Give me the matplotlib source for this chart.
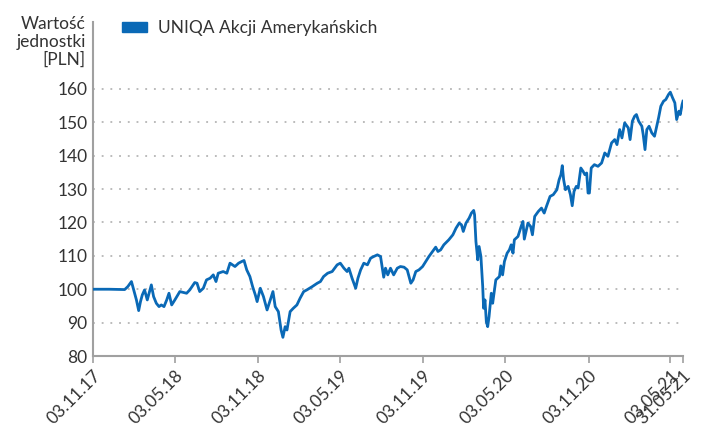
import matplotlib
matplotlib.use("Agg")
import matplotlib.pyplot as plt
import pandas as pd

dates = [
    "2017-11-03", "2017-12-09", "2018-01-12", "2018-01-19", "2018-01-27", "2018-01-30",
    "2018-02-07", "2018-02-12", "2018-02-16", "2018-02-20", "2018-02-25", "2018-03-03",
    "2018-03-07", "2018-03-12", "2018-03-17", "2018-03-23", "2018-03-29", "2018-04-03",
    "2018-04-09", "2018-04-15", "2018-04-20", "2018-04-26", "2018-05-03", "2018-05-14",
    "2018-05-29", "2018-06-05", "2018-06-16", "2018-06-21", "2018-06-27", "2018-07-05",
    "2018-07-12", "2018-07-20", "2018-07-27", "2018-08-02", "2018-08-07", "2018-08-18",
    "2018-08-26", "2018-09-02", "2018-09-13", "2018-09-21", "2018-09-28", "2018-10-03",
    "2018-10-09", "2018-10-16", "2018-10-22", "2018-10-28", "2018-11-01", "2018-11-08",
    "2018-11-15", "2018-11-23", "2018-11-30", "2018-12-06", "2018-12-11", "2018-12-18",
    "2018-12-24", "2018-12-28", "2019-01-02", "2019-01-06", "2019-01-13", "2019-01-20",
    "2019-01-28", "2019-02-04", "2019-02-12", "2019-02-19", "2019-03-03", "2019-03-14",
    "2019-03-21", "2019-03-28", "2019-04-06", "2019-04-16", "2019-04-27", "2019-05-04",
    "2019-05-12", "2019-05-19", "2019-05-23", "2019-05-30", "2019-06-07", "2019-06-12",
    "2019-06-18", "2019-06-25", "2019-07-03", "2019-07-10", "2019-07-17", "2019-07-25",
    "2019-08-01", "2019-08-05", "2019-08-08", "2019-08-12", "2019-08-17", "2019-08-23",
    "2019-08-30", "2019-09-07", "2019-09-14", "2019-09-22", "2019-09-29", "2019-10-07",
    "2019-10-12", "2019-10-18", "2019-10-25", "2019-11-02", "2019-11-09", "2019-11-16",
    "2019-11-24", "2019-12-01", "2019-12-06", "2019-12-12", "2019-12-19", "2019-12-30",
    "2020-01-08", "2020-01-15", "2020-01-22", "2020-01-27", "2020-01-31", "2020-02-06",
    "2020-02-13", "2020-02-18", "2020-02-23", "2020-02-25", "2020-02-28", "2020-03-03",
    "2020-03-06", "2020-03-10", "2020-03-14", "2020-03-16", "2020-03-19", "2020-03-22",
    "2020-03-25", "2020-03-28", "2020-04-02", "2020-04-05", "2020-04-09", "2020-04-12",
    "2020-04-20", "2020-04-23", "2020-04-27", "2020-05-01", "2020-05-07", "2020-05-12",
    "2020-05-16", "2020-05-20", "2020-05-23", "2020-05-31", "2020-06-07", "2020-06-11",
    "2020-06-14", "2020-06-22", "2020-06-28", "2020-07-02", "2020-07-07", "2020-07-15",
    "2020-07-22", "2020-07-28", "2020-08-02", "2020-08-10", "2020-08-17", "2020-08-25",
    "2020-08-30", "2020-09-03", "2020-09-06", "2020-09-09", "2020-09-13", "2020-09-19",
    "2020-09-24", "2020-09-28", "2020-10-02", "2020-10-07", "2020-10-11", "2020-10-17",
    "2020-10-22", "2020-10-26", "2020-10-30", "2020-11-02", "2020-11-05", "2020-11-09",
    "2020-11-16", "2020-11-24", "2020-12-02", "2020-12-09", "2020-12-16", "2020-12-24",
    "2020-12-31", "2021-01-05", "2021-01-11", "2021-01-16", "2021-01-22", "2021-01-30",
    "2021-02-03", "2021-02-08", "2021-02-13", "2021-02-17", "2021-02-22", "2021-03-01",
    "2021-03-04", "2021-03-08", "2021-03-12", "2021-03-17", "2021-03-23", "2021-03-29",
    "2021-04-03", "2021-04-07", "2021-04-12", "2021-04-18", "2021-04-23", "2021-04-29",
    "2021-05-03", "2021-05-08", "2021-05-13", "2021-05-17", "2021-05-22", "2021-05-25",
    "2021-05-29", "2021-05-31",
]

values = [
    100.0, 100.0, 99.9, 100.8, 102.3, 100.8,
    96.8, 93.6, 96.3, 98.3, 99.8, 96.8,
    98.8, 101.3, 97.8, 95.8, 94.8, 95.3,
    94.8, 96.8, 98.8, 95.3, 96.8, 99.3,
    98.8, 99.8, 102.0, 101.8, 99.3, 100.3,
    102.8, 103.3, 104.3, 102.3, 104.8, 105.3,
    104.8, 107.8, 106.8, 107.8, 108.3, 108.6,
    105.8, 103.8, 100.8, 98.3, 96.3, 100.3,
    97.8, 93.8, 96.8, 99.3, 94.8, 93.3,
    87.8, 85.6, 88.8, 87.8, 93.3, 94.3,
    95.3, 97.3, 99.3, 99.8, 100.8, 101.8,
    102.3, 103.8, 104.8, 105.3, 107.3, 107.8,
    106.3, 105.3, 106.3, 103.3, 100.3, 103.3,
    105.8, 107.8, 107.3, 109.3, 109.8, 110.3,
    109.8, 106.3, 103.6, 106.3, 104.3, 106.3,
    104.3, 106.3, 106.8, 106.6, 105.8, 101.8,
    102.8, 105.3, 105.8, 106.8, 108.3, 109.8,
    111.3, 112.6, 111.3, 111.8, 113.3, 114.8,
    116.3, 118.3, 119.8, 119.3, 117.3, 119.8,
    121.3, 122.8, 123.6, 122.3, 114.3, 108.8,
    112.8, 109.8, 100.8, 94.3, 96.8, 90.3,
    88.8, 91.8, 98.8, 95.8, 99.8, 102.8,
    103.8, 107.0, 104.3, 108.3, 110.8, 111.8,
    113.3, 110.8, 114.8, 115.8, 118.8, 120.3,
    115.0, 119.8, 118.8, 116.3, 121.8, 123.3,
    124.3, 122.8, 124.8, 127.8, 128.3, 129.8,
    132.8, 134.3, 137.0, 132.8, 129.8, 130.8,
    128.3, 125.0, 129.3, 130.8, 130.3, 136.3,
    135.3, 134.3, 134.8, 128.8, 128.8, 136.3,
    137.3, 136.8, 137.8, 140.8, 139.8, 143.8,
    144.8, 143.3, 147.8, 145.3, 149.8, 148.3,
    144.8, 150.3, 151.8, 152.3, 150.3, 148.8,
    146.3, 141.8, 147.8, 148.8, 146.8, 145.8,
    148.8, 151.3, 154.8, 156.3, 156.8, 158.3,
    159.0, 157.3, 155.8, 150.8, 153.3, 152.3,
    155.3, 156.3,
]

tick_dates = ["2017-11-03", "2018-05-03", "2018-11-03", "2019-05-03", "2019-11-03",
              "2020-05-03", "2020-11-03", "2021-05-03", "2021-05-31"]
tick_labels = ["03.11.17", "03.05.18", "03.11.18", "03.05.19", "03.11.19",
               "03.05.20", "03.11.20", "03.05.21", "31.05.21"]
y_ticks = [80, 90, 100, 110, 120, 130, 140, 150, 160]

series_name = "UNIQA Akcji Amerykańskich"
y_title = "Wartość\njednostki\n[PLN]"

plt.rcParams['font.family'] = ['Lato', 'DejaVu Sans']

x = pd.to_datetime(dates)
xt = pd.to_datetime(tick_dates)

fig = plt.figure(figsize=(7.01, 4.30), dpi=100)
ax = fig.add_axes([0.1327, 0.172, 0.9743 - 0.1327, 0.9488 - 0.172])

line_color = "#0a69b6"
grid_color = "#a8a8a8"
spine_color = "#a0a0a0"
text_color = "#333333"
fs = 12.5

for yv in y_ticks[1:]:
    ax.axhline(yv, color=grid_color, linewidth=1.1, linestyle=(0, (1.2, 4.5)), zorder=1)

ax.plot(x, values, color=line_color, linewidth=2.0, zorder=3, solid_joinstyle='round')

ax.set_xlim(xt[0], xt[-1])
ax.set_ylim(80, 180)
ax.set_yticks(y_ticks)
ax.set_yticklabels([str(v) for v in y_ticks], fontsize=fs, color=text_color)
ax.set_xticks(xt)
ax.set_xticklabels(tick_labels, fontsize=fs, color=text_color, rotation=45,
                   ha='right', va='top', rotation_mode='anchor')

for s in ["top", "right"]:
    ax.spines[s].set_visible(False)
for s in ["left", "bottom"]:
    ax.spines[s].set_color(spine_color)
    ax.spines[s].set_linewidth(1.5)

ax.tick_params(axis='y', length=0, pad=4)
ax.tick_params(axis='x', length=5, width=1.2, color=spine_color, pad=3)

ax.text(-0.012, 1.018, y_title, transform=ax.transAxes, ha='right', va='top',
        fontsize=fs, color=text_color, linespacing=1.13)

leg = ax.legend([plt.Rectangle((0, 0), 1, 1, color=line_color)], [series_name],
                loc='upper left', bbox_to_anchor=(0.049, 1.005), frameon=False,
                fontsize=fs, handlelength=1.44, handleheight=0.46, handletextpad=0.63,
                borderpad=0, borderaxespad=0)
for t in leg.get_texts():
    t.set_color(text_color)

fig.savefig("out.png", dpi=100)
